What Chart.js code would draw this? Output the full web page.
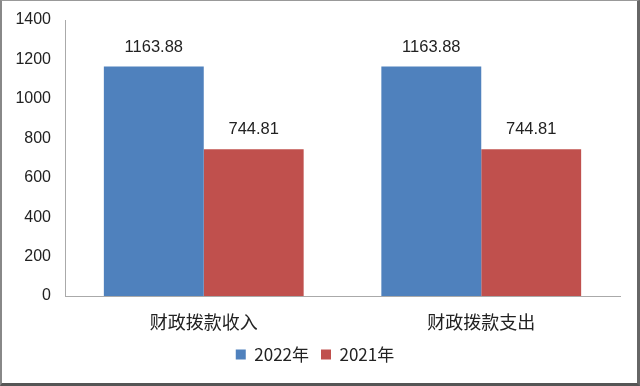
<!DOCTYPE html>
<html>
<head>
<meta charset="utf-8">
<script src="https://cdn.jsdelivr.net/npm/chart.js@4/dist/chart.umd.min.js"></script>
<style>
  html, body { margin: 0; padding: 0; background: #fff; }
  #frame {
    width: 640px; height: 386px; box-sizing: border-box;
    border-top: 1px solid #999; border-left: 2px solid #888;
    border-right: 3px solid #666; border-bottom: 3px solid #555;
    position: relative;
  }
  #wrap { width: 635px; height: 382px; }
</style>
</head>
<body>
<div id="frame"><div id="wrap"><canvas id="c"></canvas></div></div>
<script>
const categories = ["财政拨款收入", "财政拨款支出"];
const series2022 = [1163.88, 1163.88];
const series2021 = [744.81, 744.81];
const seriesNames = ["2022年", "2021年"];
const yTicks = [0, 200, 400, 600, 800, 1000, 1200, 1400];

const latin = "'Liberation Sans', 'DejaVu Sans', sans-serif";
const cjk = "'Noto Sans CJK SC', sans-serif";

const valueLabels = {
  id: "valueLabels",
  afterDatasetsDraw(chart) {
    const ctx = chart.ctx;
    ctx.save();
    ctx.font = "16.5px " + latin;
    ctx.fillStyle = "#222";
    ctx.textAlign = "center";
    ctx.textBaseline = "bottom";
    chart.data.datasets.forEach((ds, i) => {
      chart.getDatasetMeta(i).data.forEach((bar, j) => {
        ctx.fillText(ds.data[j].toFixed(2), bar.x, bar.y - 11);
      });
    });
    ctx.restore();
  }
};

// fixed legend height so the plot bottom lands where the reference has it
const legendHeight = {
  id: "legendHeight",
  afterInit(chart) {
    const lg = chart.legend;
    const fit = lg.fit;
    lg.fit = function () { fit.call(this); this.height = 39; };
  }
};

new Chart(document.getElementById("c"), {
  type: "bar",
  data: {
    labels: categories,
    datasets: [
      { label: seriesNames[0], data: series2022, backgroundColor: "#4F81BD" },
      { label: seriesNames[1], data: series2021, backgroundColor: "#C0504D" }
    ]
  },
  options: {
    responsive: true,
    maintainAspectRatio: false,
    animation: false,
    devicePixelRatio: 1,
    layout: { padding: { left: 8, right: 17, top: 19, bottom: 10 } },
    datasets: { bar: { categoryPercentage: 0.72, barPercentage: 1 } },
    scales: {
      x: {
        afterFit: s => { s.height = 38; },
        grid: { display: false, drawTicks: false },
        border: { color: "#aaa" },
        ticks: { color: "#222", font: { family: cjk, size: 18 }, padding: 15 }
      },
      y: {
        min: 0, max: 1400,
        afterBuildTicks: s => { s.ticks = yTicks.map(v => ({ value: v })); },
        afterFit: s => { s.width = 55; s.paddingTop = 0; s.paddingBottom = 0; },
        grid: { display: false, drawTicks: false },
        border: { color: "#aaa" },
        ticks: {
          color: "#222", font: { family: latin, size: 16 }, padding: 14,
          callback: v => String(v)
        }
      }
    },
    plugins: {
      tooltip: { enabled: false },
      legend: {
        position: "bottom",
        labels: {
          boxWidth: 10, boxHeight: 10, color: "#222", padding: 12,
          font: { family: cjk, size: 17 }
        }
      }
    }
  },
  plugins: [valueLabels, legendHeight]
});
</script>
</body>
</html>
